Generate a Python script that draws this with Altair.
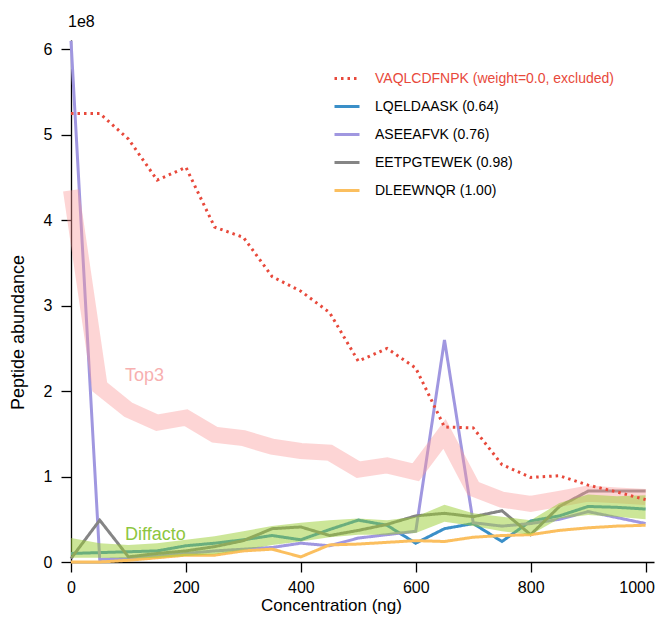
import altair as alt
import pandas as pd

conc = [0, 50, 100, 150, 200, 250, 300, 350, 400, 450, 500,
        550, 600, 650, 700, 750, 800, 850, 900, 950, 1000]

peptides = [
    "VAQLCDFNPK (weight=0.0, excluded)",
    "LQELDAASK (0.64)",
    "ASEEAFVK (0.76)",
    "EETPGTEWEK (0.98)",
    "DLEEWNQR (1.00)",
]
colors = ["#e8493b", "#3a8fc8", "#a097e0", "#858585", "#fbbf5f"]

# values in units of 1e8
vaqlcdfnpk = [5.25, 5.25, 4.95, 4.47, 4.62, 3.92, 3.80, 3.34, 3.17, 2.92, 2.35,
              2.50, 2.27, 1.58, 1.57, 1.14, 0.99, 1.01, 0.90, 0.82, 0.73]
lqeldaask = [0.10, 0.11, 0.12, 0.13, 0.19, 0.22, 0.26, 0.31, 0.26, 0.38, 0.49,
             0.43, 0.22, 0.39, 0.45, 0.24, 0.48, 0.54, 0.65, 0.64, 0.62]
aseeafvk = [6.10, 0.03, 0.04, 0.07, 0.10, 0.13, 0.15, 0.17, 0.22, 0.19, 0.28,
            0.32, 0.36, 2.60, 0.46, 0.42, 0.45, 0.50, 0.59, 0.52, 0.45]
eetpgtewek = [0.04, 0.49, 0.06, 0.10, 0.13, 0.18, 0.25, 0.39, 0.41, 0.31, 0.37,
              0.44, 0.54, 0.57, 0.53, 0.60, 0.32, 0.65, 0.83, 0.83, 0.83]
dleewnqr = [0.00, 0.00, 0.02, 0.05, 0.08, 0.08, 0.13, 0.15, 0.06, 0.20, 0.21,
            0.23, 0.25, 0.24, 0.29, 0.31, 0.32, 0.37, 0.40, 0.42, 0.43]

top3 = [4.35, 2.05, 1.78, 1.63, 1.69, 1.49, 1.45, 1.35, 1.30, 1.28, 1.08,
        1.13, 1.05, 1.50, 0.86, 0.73, 0.68, 0.74, 0.80, 0.78, 0.76]
diffacto_low = [0.05, 0.05, 0.04, 0.05, 0.07, 0.09, 0.14, 0.20, 0.24, 0.29, 0.32,
                0.32, 0.34, 0.47, 0.42, 0.36, 0.32, 0.51, 0.55, 0.53, 0.50]
diffacto_high = [0.28, 0.22, 0.20, 0.22, 0.26, 0.30, 0.36, 0.42, 0.46, 0.49, 0.51,
                 0.49, 0.53, 0.67, 0.57, 0.53, 0.49, 0.69, 0.79, 0.77, 0.78]

x_ticks = [0, 200, 400, 600, 800, 1000]
y_ticks = [0, 1, 2, 3, 4, 5, 6]

FONT = "Liberation Sans"
WIDTH = 583
XMAX = 1000 * WIDTH / 574.6
YMAX = 6.11

series = [vaqlcdfnpk, lqeldaask, aseeafvk, eetpgtewek, dleewnqr]
rows = []
for name, vals in zip(peptides, series):
    for c, v in zip(conc, vals):
        rows.append({"conc": c, "value": v, "peptide": name})
pep_df = pd.DataFrame(rows)
band_df = pd.DataFrame({"conc": conc, "top3": top3,
                        "lo": diffacto_low, "hi": diffacto_high})

xscale = alt.Scale(domain=[0, XMAX], nice=False, zero=False)
yscale = alt.Scale(domain=[0, YMAX], nice=False)

xenc = alt.X("conc:Q", scale=xscale, axis=alt.Axis(
    values=x_ticks, format="d", title="Concentration (ng)", titleX=260, titleY=43,
    titleBaseline="middle", titleAnchor="start", titleAlign="center",
    titleFontSize=17, labelPadding=7,
    labelOffset={"condition": {"test": "datum.value == 1000", "value": -9}, "value": 0}))
yenc = alt.Y("value:Q", scale=yscale, axis=alt.Axis(
    values=y_ticks, format="d", title="Peptide abundance", titleX=-53, titleY=292,
    titleAngle=-90, titleBaseline="middle", titleAlign="center"))

legend = alt.Legend(
    title=None, orient="none", legendX=262, legendY=24.5, padding=0,
    symbolType="stroke", symbolSize=625, symbolStrokeWidth=3,
    rowPadding=7, labelOffset=14, labelFontSize=14, labelFont=FONT,
    labelLimit=400,
    labelColor=alt.ExprRef(expr="indexof(datum.label, 'excluded') >= 0 ? '#e8493b' : 'black'"),
)
color_enc = alt.Color("peptide:N", scale=alt.Scale(domain=peptides, range=colors),
                      legend=legend, sort=peptides)
dash_enc = alt.StrokeDash("peptide:N", scale=alt.Scale(
    domain=peptides, range=[[2.5, 4], [1, 0], [1, 0], [1, 0], [1, 0]]),
    legend=legend, sort=peptides)

base = alt.Chart(pep_df)

pep_lines = base.transform_filter(
    alt.datum.peptide != peptides[0]
).mark_line(strokeWidth=3).encode(
    x=xenc, y=yenc, color=color_enc, strokeDash=dash_enc, detail="peptide:N")

red_line = base.transform_filter(
    alt.datum.peptide == peptides[0]
).mark_line(strokeWidth=3, strokeCap="butt").encode(
    x=xenc, y=yenc, color=color_enc, strokeDash=dash_enc)

top3_band = alt.Chart(band_df).mark_line(
    strokeWidth=16, color="#fb9a9a", opacity=0.42, strokeCap="butt"
).encode(x=alt.X("conc:Q", scale=xscale), y=alt.Y("top3:Q", scale=yscale))

diff_band = alt.Chart(band_df).mark_area(
    color="#9acd32", opacity=0.5
).encode(x=alt.X("conc:Q", scale=xscale), y=alt.Y("lo:Q", scale=yscale), y2="hi:Q")

label_df = pd.DataFrame({"conc": [94, 94], "value": [2.18, 0.32],
                         "txt": ["Top3", "Diffacto"],
                         "col": ["#f7b0b0", "#8dc63f"]})
labels = alt.Chart(label_df).mark_text(
    align="left", baseline="middle", fontSize=18, font=FONT
).encode(x=alt.X("conc:Q", scale=xscale), y=alt.Y("value:Q", scale=yscale),
         text="txt:N", color=alt.Color("col:N", scale=None))

exp_label = alt.Chart(pd.DataFrame({"t": ["1e8"]})).mark_text(
    align="left", baseline="middle", fontSize=16, font=FONT, color="black",
    dx=-3, dy=-18
).encode(x=alt.datum(0, scale=xscale), y=alt.datum(YMAX, scale=yscale), text="t:N")

chart = alt.layer(
    pep_lines, top3_band, diff_band, red_line, labels, exp_label
).properties(
    width=WIDTH, height=522,
    autosize=alt.AutoSizeParams(type="none"),
    padding={"left": 63, "top": 32, "right": 1, "bottom": 52},
).configure_view(stroke=None).configure_axis(
    grid=False, domainColor="black", domainWidth=1.3, tickColor="black",
    tickWidth=1.3, tickSize=10, labelFontSize=16, titleFontSize=18,
    labelFont=FONT, titleFont=FONT, labelColor="black", titleColor="black",
    titleFontWeight="normal", labelPadding=9, labelFlush=False
).configure_text(font=FONT)

chart.save("out.html", embed_options={"renderer": "svg", "actions": False})
